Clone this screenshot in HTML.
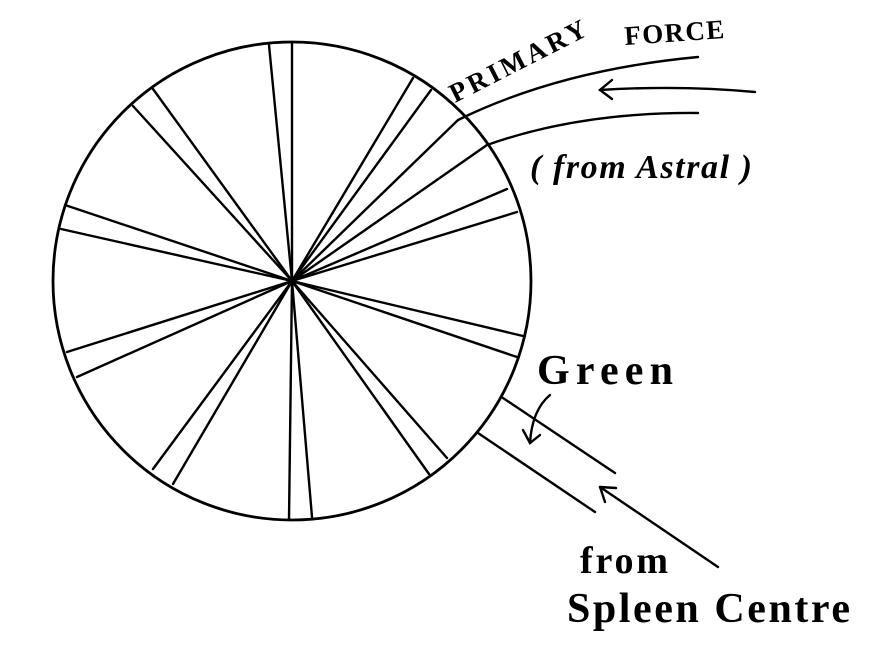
<!DOCTYPE html>
<html><head><meta charset="utf-8"><style>
html,body{margin:0;padding:0;background:#fff;}
svg{display:block;}
text{font-family:"Liberation Serif",serif;fill:#000;}
</style></head><body>
<svg width="871" height="666" viewBox="0 0 871 666" xmlns="http://www.w3.org/2000/svg">
<g stroke="#000" stroke-width="2.8" fill="none" stroke-linecap="round">
<circle cx="292" cy="281" r="239"/>
<g stroke-width="2.4">
<line x1="292" y1="281" x2="269" y2="45"/>
<line x1="292" y1="281" x2="292" y2="43"/>
<line x1="292" y1="281" x2="413" y2="78"/>
<line x1="292" y1="281" x2="431" y2="90"/>
<line x1="292" y1="281" x2="507" y2="189"/>
<line x1="292" y1="281" x2="517" y2="212"/>
<line x1="292" y1="281" x2="523" y2="336"/>
<line x1="292" y1="281" x2="517" y2="357"/>
<line x1="292" y1="281" x2="447" y2="458"/>
<line x1="292" y1="281" x2="429" y2="474"/>
<line x1="292" y1="281" x2="312" y2="517"/>
<line x1="292" y1="281" x2="289" y2="520"/>
<line x1="292" y1="281" x2="173" y2="484"/>
<line x1="292" y1="281" x2="153" y2="469"/>
<line x1="292" y1="281" x2="77" y2="377"/>
<line x1="292" y1="281" x2="67" y2="352"/>
<line x1="292" y1="281" x2="61" y2="229"/>
<line x1="292" y1="281" x2="65" y2="205"/>
<line x1="292" y1="281" x2="133" y2="106"/>
<line x1="292" y1="281" x2="153" y2="89"/>
<path d="M292 281 L458 120 Q560 70 698 57"/>
<path d="M292 281 L487 145 Q580 112 698 113"/>
<path d="M755 92 Q680 85 600 90"/>
<path d="M612 80 L600 90 L612 99"/>
<line x1="503" y1="398" x2="615" y2="473"/>
<line x1="478" y1="433" x2="595" y2="512"/>
<line x1="718" y1="567" x2="600" y2="487"/>
<path d="M600 487 L616 488 M600 487 L605 502"/>
<path d="M550 395 Q532 410 530 443 M523 430 L530 443 L540 435"/>
</g>
</g>
<text x="0" y="0" font-size="27" font-weight="bold" textLength="150" transform="translate(455,103) rotate(-27)">PRIMARY</text>
<text x="0" y="0" font-size="27" font-weight="bold" textLength="100" transform="translate(625,45) rotate(-4)">FORCE</text>
<text x="530" y="178" font-size="34" font-style="italic" font-weight="bold" textLength="222">( from Astral )</text>
<text x="537" y="384" font-size="42" font-weight="bold" textLength="136">Green</text>
<text x="580" y="573" font-size="38" font-weight="bold" textLength="88">from</text>
<text x="567" y="622" font-size="42" font-weight="bold" textLength="283">Spleen Centre</text>
</svg>
</body></html>
